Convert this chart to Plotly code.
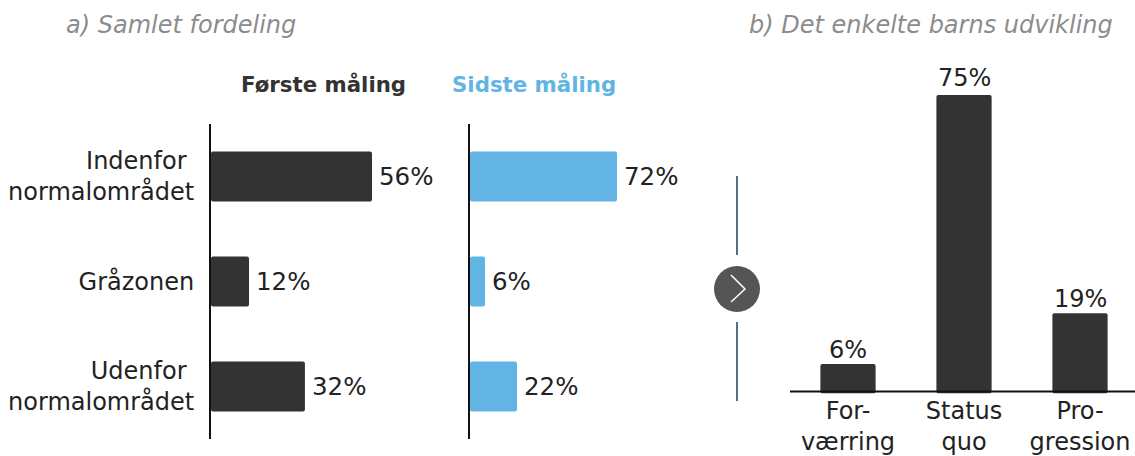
import plotly.graph_objects as go

W, H = 1135, 456
FONT = "DejaVu Sans"
DARK = "#333333"
BLUE = "#62b4e5"
GREY = "#8c8c8c"
SLATE = "#5a6b85"
INK = "#222222"
CLEAR = "rgba(0,0,0,0)"

categories = ["Indenfor&nbsp;<br>normalområdet", "Gråzonen", "Udenfor&nbsp;<br>normalområdet"]
first_values = [56, 12, 32]
last_values = [72, 6, 22]
change_labels = ["For-<br>værring", "Status<br>quo", "Pro-<br>gression"]
change_values = [6, 75, 19]

# The reference's bars start a little behind their axis line, so each panel's
# axis begins below zero and every bar is drawn from that point up to its value.
FIRST_START, LAST_START, CHANGE_START = -1.6, -1.5, -1.56


def px(x):
    return x / W


def py(y):
    return 1 - y / H


fig = go.Figure()
fig.add_trace(go.Bar(y=categories, x=[v - FIRST_START for v in first_values], base=FIRST_START,
                     orientation="h", marker_color=DARK, marker_line_width=0,
                     xaxis="x", yaxis="y", showlegend=False))
fig.add_trace(go.Bar(y=categories, x=[v - LAST_START for v in last_values], base=LAST_START,
                     orientation="h", marker_color=BLUE, marker_line_width=0,
                     xaxis="x2", yaxis="y2", showlegend=False))
fig.add_trace(go.Bar(x=change_labels, y=[v - CHANGE_START for v in change_values], base=CHANGE_START,
                     marker_color=DARK, marker_line_width=0,
                     xaxis="x3", yaxis="y3", showlegend=False))

annotations = []
for xref, yref, vals in (("x", "y", first_values), ("x2", "y2", last_values)):
    for c, v in zip(categories, vals):
        annotations.append(dict(x=v, y=c, xref=xref, yref=yref, text=f"{v}%", showarrow=False,
                                xanchor="left", yanchor="middle", xshift=5,
                                font=dict(family=FONT, size=24.5, color=INK)))
for c, v, lift in zip(change_labels, change_values, (1, 4, 1)):
    annotations.append(dict(x=c, y=v, xref="x3", yref="y3", text=f"{v}%", showarrow=False,
                            xanchor="center", yanchor="bottom", yshift=lift - 3,
                            font=dict(family=FONT, size=24, color=INK)))

for text, x, y, anchor, color, bold, italic, size in [
    ("a) Samlet fordeling", 64, 25, "left", GREY, False, True, 24),
    ("b) Det enkelte barns udvikling", 747, 25, "left", GREY, False, True, 24),
    ("Første måling", 323, 84, "center", DARK, True, False, 21.3),
    ("Sidste måling", 534, 84, "center", BLUE, True, False, 21.3),
]:
    annotations.append(dict(x=px(x), y=py(y), xref="paper", yref="paper", showarrow=False,
                            text=f"<b>{text}</b>" if bold else (f"<i>{text}</i>" if italic else text),
                            xanchor=anchor, yanchor="middle",
                            font=dict(family=FONT, size=size, color=color)))

shapes = [
    dict(type="line", xref="paper", yref="paper", x0=px(790), x1=px(1135), y0=py(391.5), y1=py(391.5),
         line=dict(color="#111111", width=2), layer="above"),
    dict(type="line", xref="paper", yref="paper", x0=px(737), x1=px(737), y0=py(176), y1=py(255),
         line=dict(color=SLATE, width=2)),
    dict(type="line", xref="paper", yref="paper", x0=px(737), x1=px(737), y0=py(322), y1=py(401),
         line=dict(color=SLATE, width=2)),
    dict(type="circle", xref="paper", yref="paper", x0=px(714), x1=px(760), y0=py(312), y1=py(266),
         fillcolor="#555555", line=dict(width=0)),
    dict(type="path", xref="paper", yref="paper",
         path=f"M {px(731)} {py(275)} L {px(745)} {py(289)} L {px(731)} {py(302)}",
         line=dict(color="white", width=1.5)),
]

hidden = dict(visible=False, fixedrange=True, automargin=False)
ycat = dict(type="category", range=[2.5, -0.5], showline=True, linecolor="#111111", linewidth=2,
            ticks="outside", ticklen=10, tickcolor=CLEAR, showgrid=False, zeroline=False,
            tickfont=dict(family=FONT, size=24, color=INK), automargin=False,
            categoryorder="array", categoryarray=categories, fixedrange=True)

fig.update_layout(
    width=W, height=H, autosize=False,
    margin=dict(l=0, r=0, t=0, b=0),
    paper_bgcolor="white", plot_bgcolor="white",
    font=dict(family=FONT),
    bargap=0.524,
    barcornerradius=2,
    annotations=annotations, shapes=shapes,
    xaxis=dict(domain=[px(211), px(461)], range=[FIRST_START, FIRST_START + 250 / 2.795], **hidden),
    yaxis=dict(domain=[py(439), py(124)], anchor="x", **ycat),
    xaxis2=dict(domain=[px(470), px(701)], range=[LAST_START, LAST_START + 231 / 2.0], **hidden),
    yaxis2=dict(domain=[py(439), py(124)], anchor="x2", **{**ycat, "showticklabels": False, "ticks": ""}),
    xaxis3=dict(domain=[px(790), 1], range=[-0.5, 2.474], type="category", showline=False,
                ticks="", showgrid=False, zeroline=False,
                tickfont=dict(family=FONT, size=24, color=INK), anchor="y3", fixedrange=True,
                automargin=False),
    yaxis3=dict(domain=[py(393.5), py(80)], range=[CHANGE_START, CHANGE_START + 313.5 / 3.9],
                visible=False, anchor="x3", fixedrange=True, automargin=False),
)

fig.write_html("out.html", config={"displayModeBar": False},
               post_script="document.body.style.margin='0';document.body.style.overflow='hidden';")
